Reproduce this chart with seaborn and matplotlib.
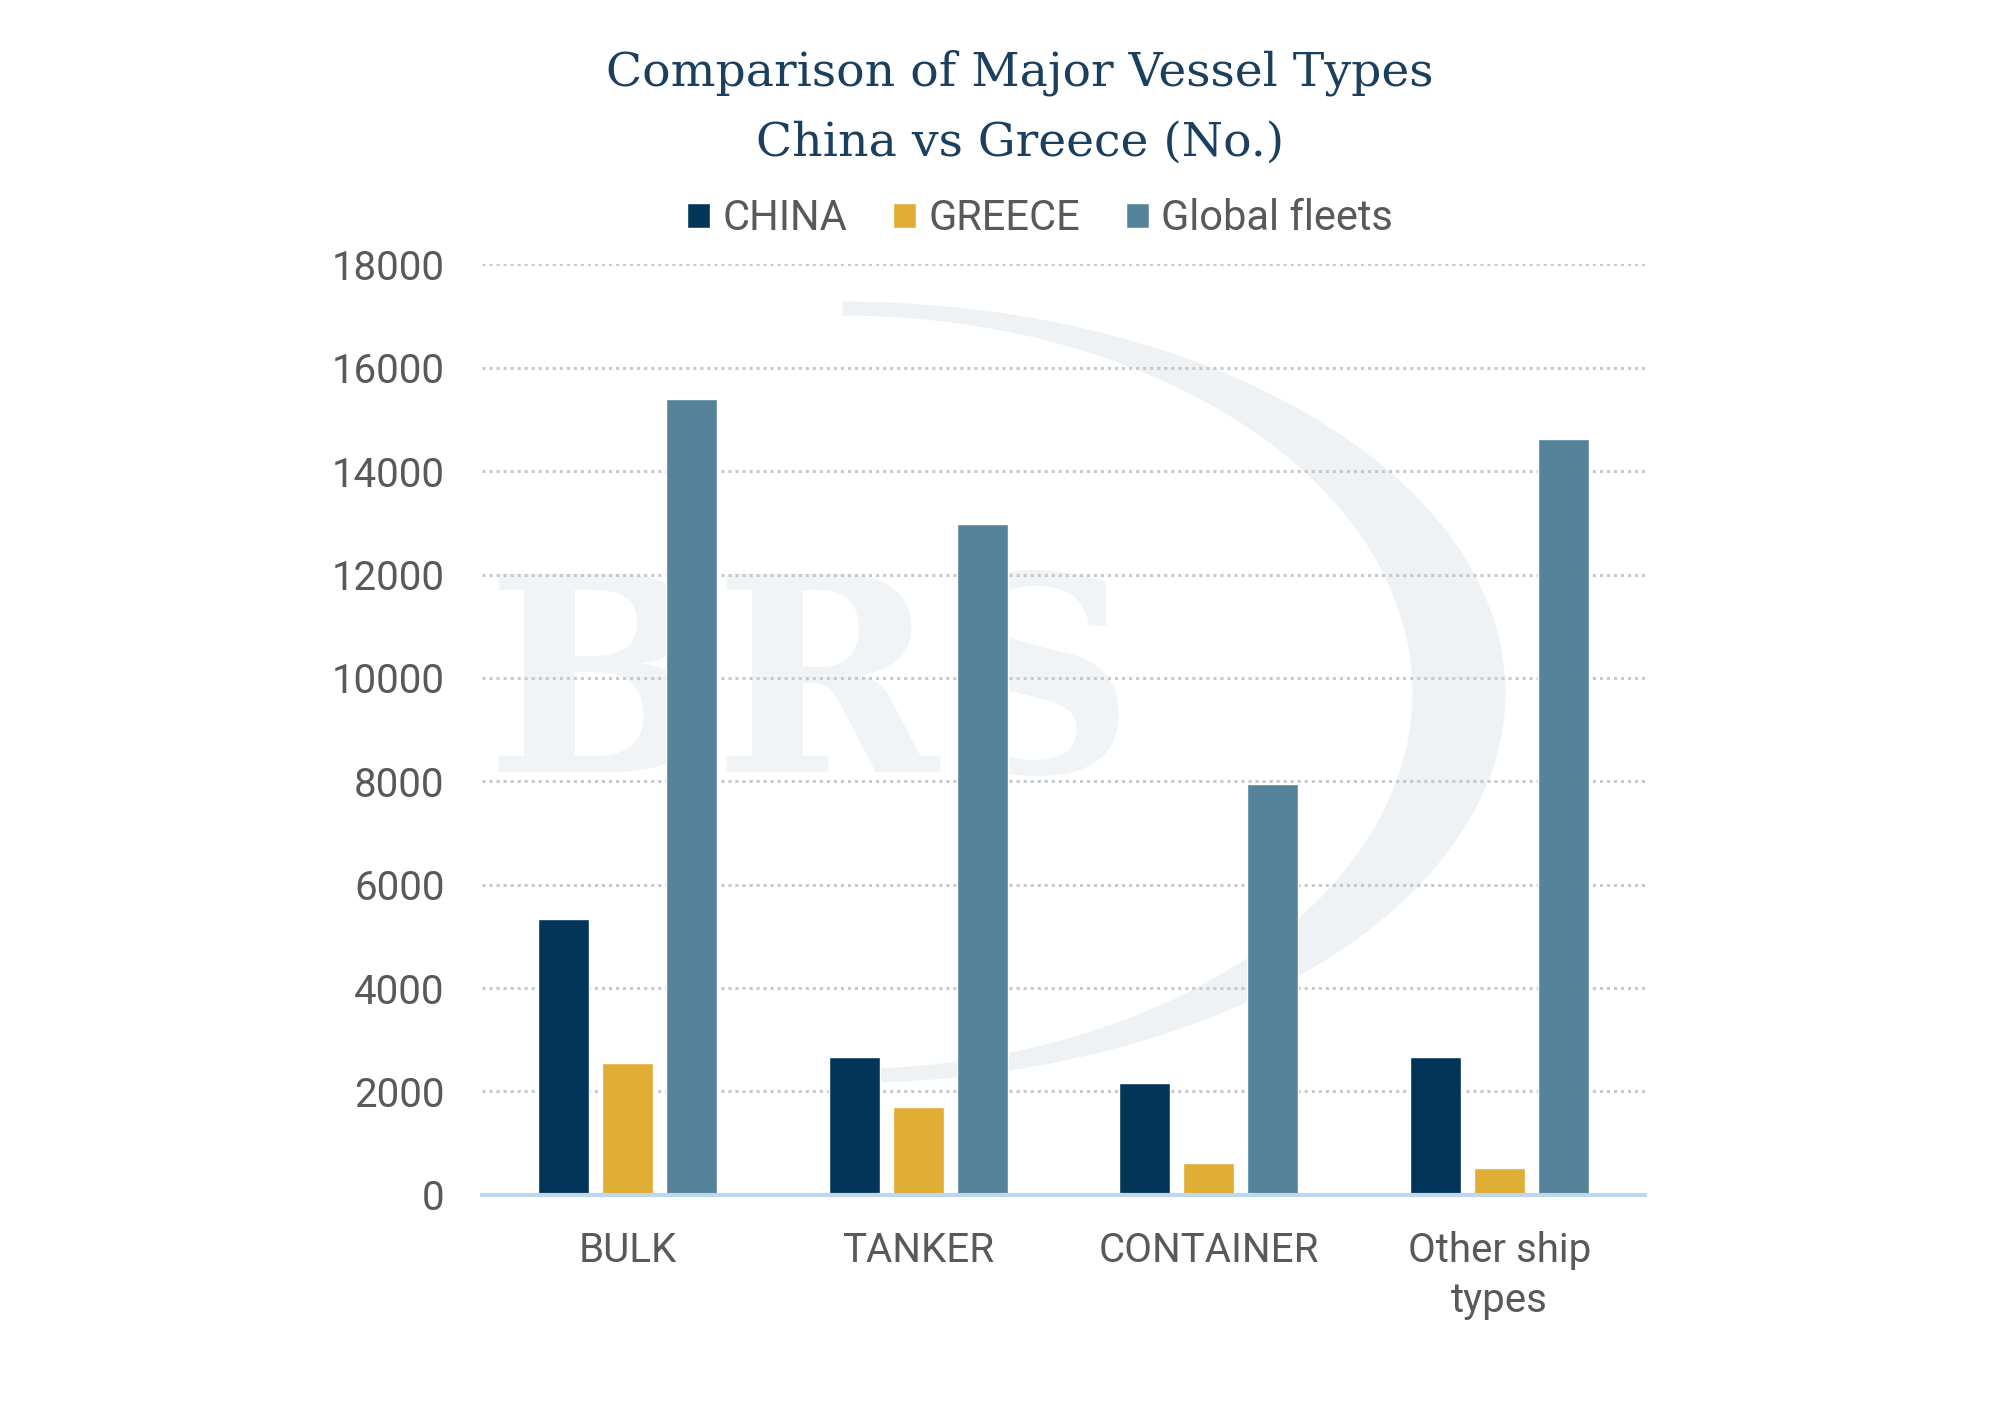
import numpy as np
import pandas as pd
import matplotlib
matplotlib.use('Agg')
import matplotlib.pyplot as plt
import seaborn as sns
from matplotlib.patches import Polygon

categories = ['BULK', 'TANKER', 'CONTAINER', 'Other ship\ntypes']
china = [5330, 2660, 2170, 2660]
greece = [2560, 1700, 620, 520]
global_fleets = [15400, 12970, 7940, 14620]
series_names = ['CHINA', 'GREECE', 'Global fleets']
colors = ['#023557', '#E0AD35', '#55849A']

df = pd.DataFrame({
    'type': categories * 3,
    'series': np.repeat(series_names, len(categories)),
    'value': china + greece + global_fleets,
})

sns.set_theme(style='white')
plt.rcParams['font.family'] = ['Roboto', 'DejaVu Sans']

fig = plt.figure(figsize=(20, 14.14), dpi=100)
ax = fig.add_axes([0.241, 0.155, 0.5815, 0.658])

# faint watermark (logo text + swoosh), in axes fractions
ax.text(0.282, 0.535, 'BRS', fontsize=195, fontweight='bold', color='#F1F4F6',
        family='DejaVu Serif', ha='center', va='center', zorder=0,
        transform=ax.transAxes)
t = np.linspace(-np.pi / 2, np.pi / 2, 200)
outer = np.column_stack([0.31 + 0.57 * np.cos(t), 0.54 + 0.42 * np.sin(t)])
inner = np.column_stack([0.31 + 0.49 * np.cos(t[::-1]), 0.54 + 0.405 * np.sin(t[::-1])])
ax.add_patch(Polygon(np.vstack([outer, inner]), closed=True, facecolor='#EEF2F4',
                     edgecolor='none', transform=ax.transAxes, zorder=0))

sns.barplot(data=df, x='type', y='value', hue='series', palette=colors,
            width=0.66, gap=0.2, ax=ax, saturation=1, zorder=2)

ax.set_xlim(-0.5, 3.5)
ax.set_ylim(0, 18000)
ax.set_yticks(np.arange(0, 18001, 2000))
ax.yaxis.grid(True, linestyle=(0, (1, 1.3)), color='#C9C9C9', linewidth=2.2, zorder=1)
ax.set_axisbelow(True)
for s in ['top', 'right', 'left']:
    ax.spines[s].set_visible(False)
ax.spines['bottom'].set_color('#BDD7EE')
ax.spines['bottom'].set_linewidth(3)
ax.spines['bottom'].set_zorder(3)
ax.tick_params(axis='both', length=0, labelsize=29, labelcolor='#595959')
ax.tick_params(axis='y', pad=27)
ax.tick_params(axis='x', pad=26)
for lab in ax.get_xticklabels():
    lab.set_linespacing(1.35)
ax.set_xlabel('')
ax.set_ylabel('')

fig.text(0.51, 0.9486, 'Comparison of Major Vessel Types', ha='center', va='center',
         fontsize=34, color='#1B3F5E', family='DejaVu Serif')
fig.text(0.51, 0.899, 'China vs Greece (No.)', ha='center', va='center',
         fontsize=34, color='#1B3F5E', family='DejaVu Serif')

handles, labels = ax.get_legend_handles_labels()
ax.legend(handles, labels, loc='center', bbox_to_anchor=(0.52, 0.8455),
          bbox_transform=fig.transFigure, ncol=3, frameon=False, fontsize=30,
          labelcolor='#595959', handlelength=0.55, handleheight=0.55,
          handletextpad=0.3, columnspacing=1.1)

fig.savefig('out.png', dpi=100, facecolor='white')
